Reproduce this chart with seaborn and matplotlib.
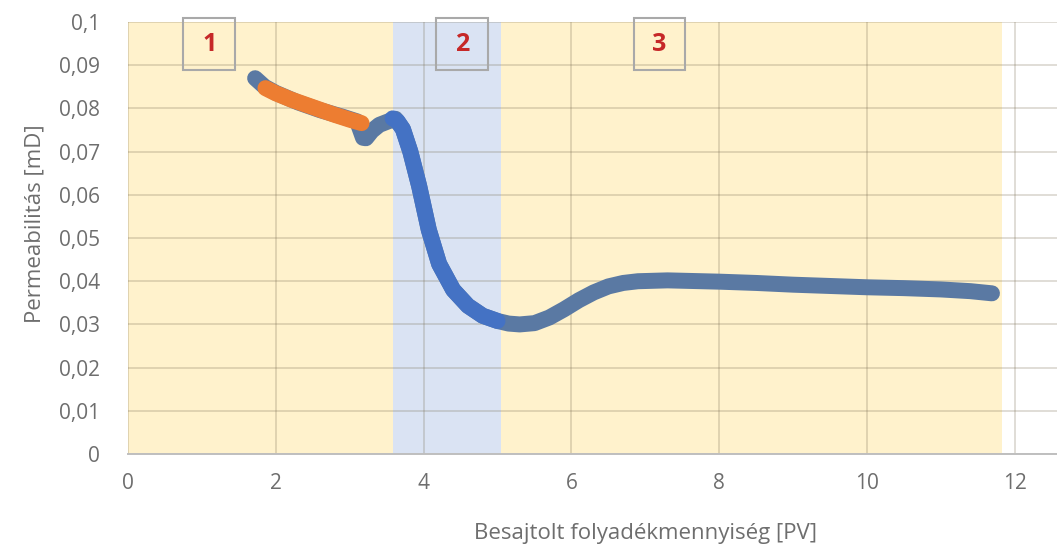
import matplotlib
matplotlib.use("Agg")
import matplotlib.pyplot as plt
from matplotlib.patches import Rectangle
import pandas as pd
import seaborn as sns

# Permeability over the whole flooding run
pv_all = [1.72, 1.85, 2.0, 2.3, 2.6, 2.9, 3.1, 3.18, 3.22, 3.3, 3.4, 3.52, 3.62,
          3.72, 3.82, 3.94, 4.07, 4.21, 4.4, 4.6, 4.8, 5.0, 5.15, 5.3, 5.5, 5.7,
          5.9, 6.1, 6.3, 6.5, 6.7, 6.9, 7.3, 8.0, 8.5, 9.0, 9.5, 10.0, 10.5,
          11.0, 11.4, 11.69]
perm_all = [0.0870, 0.0850, 0.0836, 0.0814, 0.0796, 0.0781, 0.0770, 0.0732,
            0.0731, 0.0748, 0.0762, 0.0770, 0.0776, 0.0752, 0.0700, 0.0620,
            0.0519, 0.0440, 0.0380, 0.0343, 0.0320, 0.0308, 0.0302, 0.0300,
            0.0303, 0.0316, 0.0335, 0.0356, 0.0374, 0.0388, 0.0396, 0.0400,
            0.0402, 0.0399, 0.0396, 0.0392, 0.0389, 0.0386, 0.0384, 0.0381,
            0.0377, 0.0372]

# Stage 1 section of the curve
pv_stage1 = [1.86, 2.0, 2.2, 2.4, 2.6, 2.8, 3.0, 3.16]
perm_stage1 = [0.0847, 0.0835, 0.0821, 0.0809, 0.0797, 0.0785, 0.0774, 0.0766]

# Stage 2 section of the curve
pv_stage2 = [3.58, 3.65, 3.72, 3.82, 3.94, 4.07, 4.21, 4.4, 4.6, 4.8, 5.0]
perm_stage2 = [0.0777, 0.0770, 0.0752, 0.0700, 0.0620, 0.0519, 0.0440, 0.0380,
               0.0343, 0.0320, 0.0308]

# Stage boundaries and their labels
stage_edges = [0.0, 3.58, 5.05, 11.83]
stage_labels = ["1", "2", "3"]
stage_label_x = [1.10, 4.52, 7.19]
stage_label_y = 0.0949

x_ticks = [0, 2, 4, 6, 8, 10, 12]
x_tick_labels = ["0", "2", "4", "6", "8", "10", "12"]
y_ticks = [0.0, 0.01, 0.02, 0.03, 0.04, 0.05, 0.06, 0.07, 0.08, 0.09, 0.1]
y_tick_labels = ["0", "0,01", "0,02", "0,03", "0,04", "0,05", "0,06", "0,07",
                 "0,08", "0,09", "0,1"]

x_title = "Besajtolt folyadékmennyiség [PV]"
y_title = "Permeabilitás [mD]"

sns.set_theme(style="white")
plt.rcParams["font.family"] = ["Open Sans", "DejaVu Sans"]

GRAY_BLUE = "#5A79A3"
BLUE = "#4472C4"
ORANGE = "#ED7D31"
YELLOW_BG = "#FFF2CC"
BLUE_BG = "#DAE3F3"
TEXT = "#6E6E6E"

fig = plt.figure(figsize=(10.57, 5.51), dpi=100)
fig.patch.set_facecolor("white")
ax = fig.add_axes([0.1211, 0.176, 0.8789, 0.784])
ax.set_facecolor("white")

# Stage shading
span_colors = [YELLOW_BG, BLUE_BG, YELLOW_BG]
for (x0, x1, c) in zip(stage_edges[:-1], stage_edges[1:], span_colors):
    ax.axvspan(x0, x1, color=c, lw=0, zorder=0.5)

df_all = pd.DataFrame({"pv": pv_all, "perm": perm_all})
df_s1 = pd.DataFrame({"pv": pv_stage1, "perm": perm_stage1})
df_s2 = pd.DataFrame({"pv": pv_stage2, "perm": perm_stage2})

line_kw = dict(linewidth=11.5, sort=False, estimator=None,
               solid_capstyle="round", solid_joinstyle="round", legend=False)
sns.lineplot(data=df_all, x="pv", y="perm", color=GRAY_BLUE, ax=ax, zorder=2, **line_kw)
sns.lineplot(data=df_s1, x="pv", y="perm", color=ORANGE, ax=ax, zorder=3, **line_kw)
sns.lineplot(data=df_s2, x="pv", y="perm", color=BLUE, ax=ax, zorder=3, **line_kw)

ax.set_xlim(0, 12.57)
ax.set_ylim(0, 0.1)
ax.set_xticks(x_ticks)
ax.set_xticklabels(x_tick_labels)
ax.set_yticks(y_ticks)
ax.set_yticklabels(y_tick_labels)
ax.set_xlabel("")
ax.set_ylabel("")

ax.set_axisbelow("line")
ax.grid(True, color="#7A6F55", alpha=0.28, linewidth=1.2)

for side in ["top", "right", "left"]:
    ax.spines[side].set_visible(False)
ax.spines["bottom"].set_color("#BFBFBF")
ax.spines["bottom"].set_linewidth(1.4)

ax.tick_params(axis="x", length=0, pad=14, labelsize=15, labelcolor=TEXT)
ax.tick_params(axis="y", length=0, pad=20, labelsize=15, labelcolor=TEXT)

# Stage number boxes
box_w, box_h = 0.70, 0.0120
for lab, xc in zip(stage_labels, stage_label_x):
    ax.add_patch(Rectangle((xc - box_w / 2, stage_label_y - box_h / 2), box_w, box_h,
                           fill=False, edgecolor="#A9A9A9", lw=1.5, clip_on=False,
                           zorder=4))
    ax.text(xc, stage_label_y, lab, ha="center", va="center", fontsize=18,
            fontweight="bold", color="#C62828", zorder=5)

fig.text(646 / 1057, 1 - 533 / 551, x_title, ha="center", va="center",
         fontsize=16, color=TEXT)
fig.text(35 / 1057, 1 - 224 / 551, y_title, ha="center", va="center",
         rotation=90, fontsize=16, color=TEXT)

fig.savefig("out.png", dpi=100, facecolor="white")
